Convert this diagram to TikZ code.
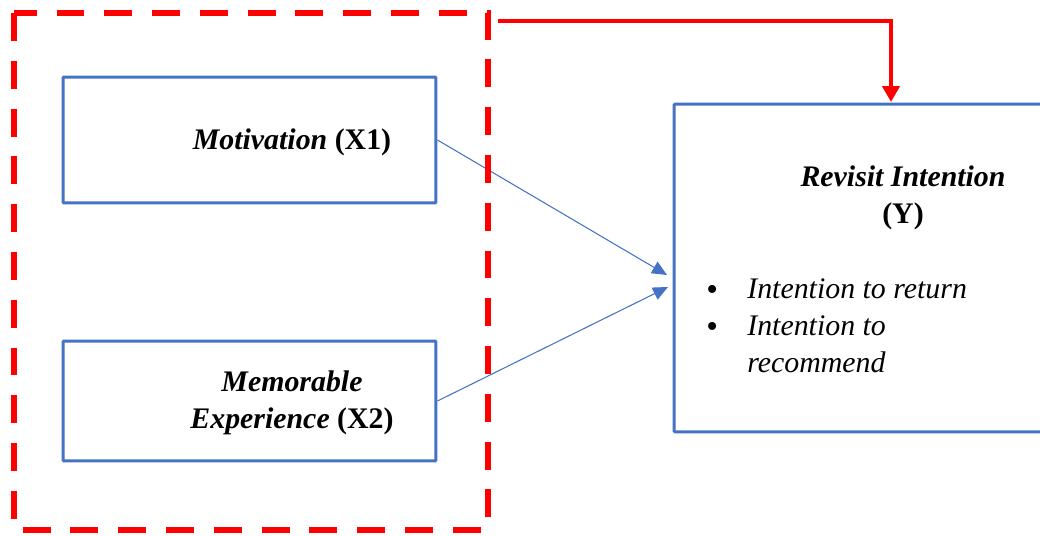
\documentclass[tikz,border=0pt]{standalone}
\usepackage{fontspec}
\setmainfont{Liberation Serif}
\usetikzlibrary{arrows.meta}
\definecolor{boxblue}{HTML}{4472C4}
\definecolor{framered}{HTML}{FF0000}

\begin{document}
\begin{tikzpicture}[x=0.02cm, y=-0.02cm,
  varbox/.style={draw=boxblue, line width=1.7pt, rounded corners=0.6pt, inner sep=0pt},
  lbl/.style={font=\fontsize{17}{21}\selectfont, align=center, inner sep=0pt},
  link/.style={draw=boxblue, line width=0.6pt, -{Triangle[length=8.5pt,width=7.5pt]}},
  feedback/.style={draw=framered, line width=2.8pt, -{Triangle[length=9pt,width=9.6pt]}},
  groupframe/.style={draw=framered, line width=3.4pt, dash pattern=on 15.9pt off 11.3pt}]
\clip (0,0) rectangle (1040,536);

% variables
\node[varbox, minimum width=7.46cm, minimum height=2.52cm] (x1) at (249.5,140) {};
\node[varbox, minimum width=7.46cm, minimum height=2.4cm] (x2) at (249.5,401) {};
\node[varbox, minimum width=9.16cm, minimum height=6.56cm] (y) at (903,268) {};

\newcommand{\itembullet}{\makebox[0.82cm][l]{\raisebox{-0.06em}{\fontsize{19}{21}\selectfont\textbullet}}}
\node[lbl] (x1txt) at (292,142) {\textbf{\textit{Motivation}} \textbf{(X1)}};
\node[lbl] (x2txt) at (292,403) {\textbf{\textit{Memorable}}\\\textbf{\textit{Experience}} \textbf{(X2)}};
\node[lbl] (ytxt) at (903,198) {\textbf{\textit{Revisit Intention}}\\\textbf{(Y)}};
\node[lbl, align=left, anchor=west] (yitems) at (706,326) {%
  \itembullet\textit{Intention to return}\\
  \itembullet\textit{Intention to}\\
  \hspace*{0.82cm}\textit{recommend}};

% paths
\coordinate (t1) at (667,275);
\coordinate (t2) at (668,287);
\draw[link] (x1.east) -- (t1);
\draw[link] (x2.east) -- (t2);

% simultaneous effect
\draw[groupframe] (14,13) rectangle (488,530);
\coordinate (fbstart) at (498,21);
\coordinate (fbend) at (891,102);
\draw[feedback] (fbstart) -| (fbend);

\end{tikzpicture}
\end{document}
